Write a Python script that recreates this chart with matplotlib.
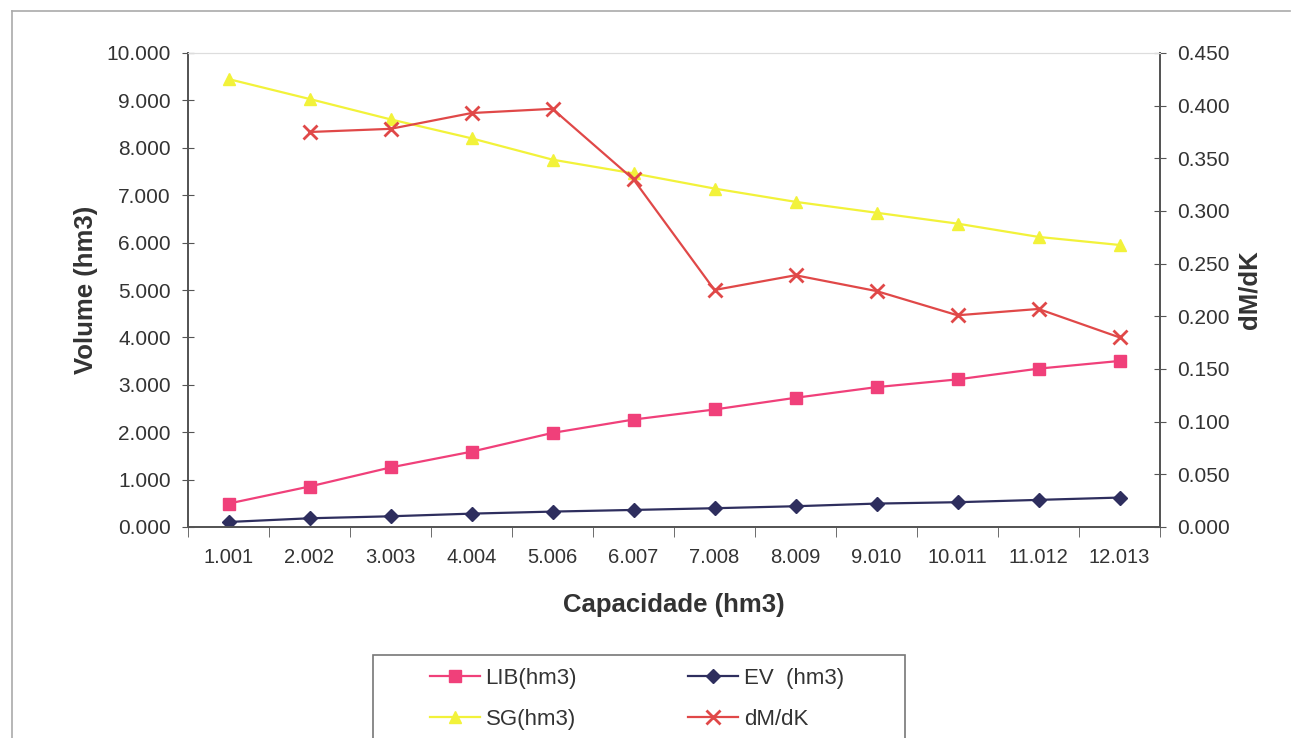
import matplotlib; matplotlib.use("Agg")
import numpy as np
import matplotlib.pyplot as plt
from matplotlib.lines import Line2D
from matplotlib.patches import Rectangle
from matplotlib.ticker import FuncFormatter, MultipleLocator

plt.rcParams["font.family"] = ["Liberation Sans", "DejaVu Sans"]

capacidade = ["1.001", "2.002", "3.003", "4.004", "5.006", "6.007",
              "7.008", "8.009", "9.010", "10.011", "11.012", "12.013"]
lib_hm3 = [494, 854, 1256, 1589, 1985, 2267, 2479, 2726, 2951, 3114, 3341, 3503]
ev_hm3 = [106, 184, 226, 282, 325, 360, 396, 438, 494, 523, 572, 621]
sg_hm3 = [9450, 9030, 8600, 8200, 7750, 7460, 7140, 6860, 6630, 6400, 6120, 5950]
dmdk = [np.nan, 0.375, 0.378, 0.393, 0.397, 0.330,
        0.225, 0.239, 0.224, 0.201, 0.207, 0.180]

W, H = 1296, 738
fig = plt.figure(figsize=(W / 100, H / 100), dpi=100)
ax = fig.add_axes([188 / W, 1 - 527 / H, (1160 - 188) / W, (527 - 53) / H])
ax2 = ax.twinx()

x = np.arange(len(capacidade))
txt = "#333333"

l1, = ax.plot(x, lib_hm3, color="#F0407A", lw=1.6, marker="s", ms=8.5,
              mec="#F0407A", mfc="#F0407A", zorder=3)
l2, = ax.plot(x, ev_hm3, color="#2E2E5E", lw=1.6, marker="D", ms=7,
              mec="#2E2E5E", mfc="#2E2E5E", zorder=3)
l3, = ax.plot(x, sg_hm3, color="#F2F23A", lw=1.6, marker="^", ms=8.5,
              mec="#F2F23A", mfc="#F2F23A", zorder=3)
l4, = ax2.plot(x, dmdk, color="#E04848", lw=1.6, marker="x", ms=10, mew=2, zorder=3)

ax.set_xlim(-0.5, len(capacidade) - 0.5)
ax.set_ylim(0, 10000)
ax2.set_ylim(0, 0.45)
ax.yaxis.set_major_locator(MultipleLocator(1000))
ax2.yaxis.set_major_locator(MultipleLocator(0.05))
ax.yaxis.set_major_formatter(FuncFormatter(lambda v, p: f"{v / 1000:.3f}"))
ax2.yaxis.set_major_formatter(FuncFormatter(lambda v, p: f"{v:.3f}"))

ax.set_xticks(x)
ax.set_xticklabels(capacidade)
ax.set_xticks(np.arange(-0.5, len(capacidade)), minor=True)
ax.tick_params(axis="x", which="major", length=0, pad=15, labelsize=14.5, labelcolor=txt)
ax.tick_params(axis="x", which="minor", length=7, direction="out", color="#555555")
ax.tick_params(axis="y", direction="inout", length=9, color="#555555",
               labelsize=15, labelcolor=txt, pad=8)
ax2.tick_params(axis="y", direction="inout", length=9, color="#555555",
                labelsize=15, labelcolor=txt, pad=8)

for a in (ax, ax2):
    for s in ("left", "right", "bottom"):
        a.spines[s].set_color("#555555")
        a.spines[s].set_linewidth(1.3)
    a.spines["top"].set_color("#dddddd")

ax.set_xlabel("Capacidade (hm3)", fontsize=18.5, fontweight="bold", color=txt)
ax.set_ylabel("Volume (hm3)", fontsize=18.5, fontweight="bold", color=txt)
ax2.set_ylabel("dM/dK", fontsize=18.5, fontweight="bold", color=txt)
ax.xaxis.set_label_coords(0.5, (527 - 593) / 474)
ax.yaxis.set_label_coords((98 - 188) / 972, 0.5)
ax2.yaxis.set_label_coords((1237 - 188) / 972, 0.5)

# outer chart frame
fig.add_artist(Line2D([12 / W, 12 / W], [0, 1 - 11 / H], transform=fig.transFigure,
                      color="#aaaaaa", lw=1.2))
fig.add_artist(Line2D([12 / W, 1290 / W], [1 - 11 / H, 1 - 11 / H], transform=fig.transFigure,
                      color="#aaaaaa", lw=1.2))

# legend box (runs off the bottom edge, as in the scan)
fig.add_artist(Rectangle((373 / W, -0.05), (905 - 373) / W, 0.05 + 1 - 655 / H,
                         transform=fig.transFigure, fill=False,
                         edgecolor="#777777", lw=1.2))
leg = fig.legend([l1, l3, l2, l4], ["LIB(hm3)", "SG(hm3)", "EV  (hm3)", "dM/dK"],
                 ncol=2, loc="upper left", bbox_to_anchor=(430 / W, 1 - 668 / H),
                 fontsize=16, frameon=False, handlelength=2.25,
                 labelspacing=0.9, borderpad=0, borderaxespad=0,
                 columnspacing=5.0, handletextpad=0.25)
for t in leg.get_texts():
    t.set_color(txt)

fig.savefig("out.png", dpi=100)
